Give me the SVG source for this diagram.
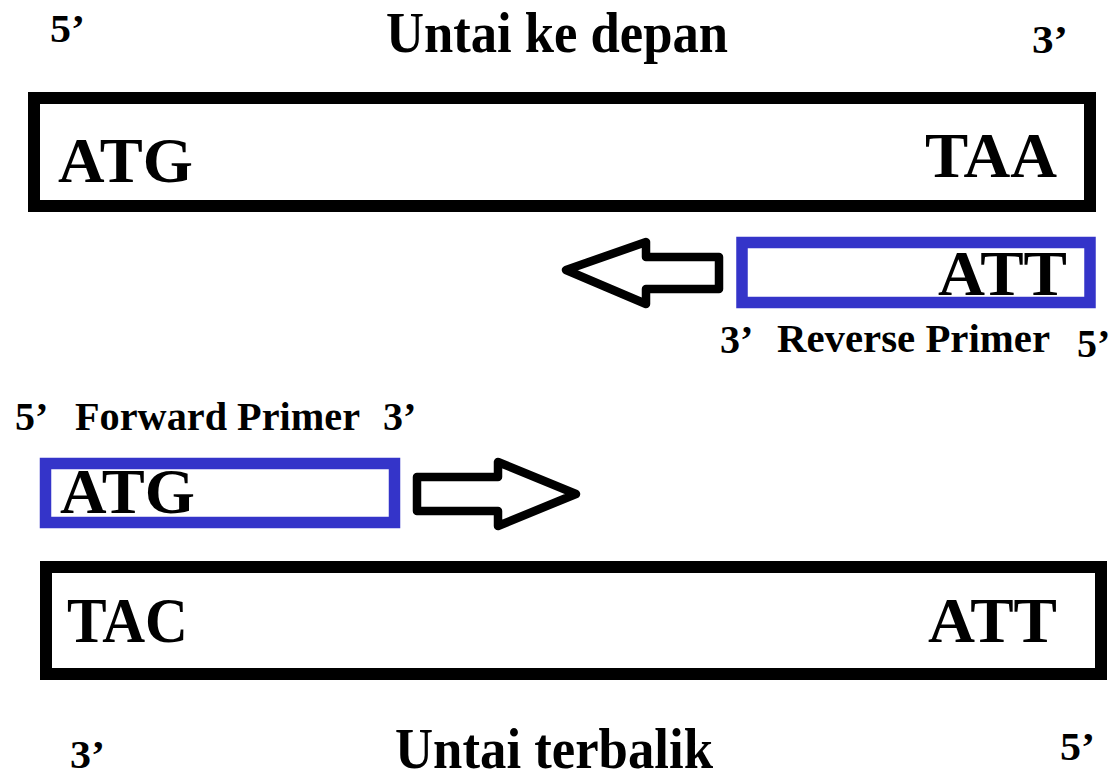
<svg xmlns="http://www.w3.org/2000/svg" width="1114" height="777" viewBox="0 0 1114 777">
  <style>
    .strand { fill: #ffffff; stroke: #000000; stroke-width: 12; }
    .primer { fill: #ffffff; stroke: #3434c9; stroke-width: 11.5; }
    .arrow { fill: #ffffff; stroke: #000000; stroke-width: 8.5; stroke-linejoin: round; }
    text { font-family: "Liberation Serif", "Times New Roman", serif; font-weight: bold; fill: #000000; }
    .seq { font-size: 63px; }
    .end { font-size: 40px; }
    .lbl { font-size: 40px; }
    .title { font-size: 58px; }
  </style>

  <rect width="1114" height="777" fill="#ffffff"/>

  <!-- Forward (sense) strand -->
  <g id="strand-forward">
    <text class="end" x="50" y="42" textLength="35" lengthAdjust="spacingAndGlyphs">5’</text>
    <text class="title" x="386" y="52" textLength="342" lengthAdjust="spacingAndGlyphs">Untai ke depan</text>
    <text class="end" x="1032" y="53" textLength="36" lengthAdjust="spacingAndGlyphs">3’</text>
    <rect class="strand" x="34" y="98" width="1056" height="108"/>
    <text class="seq" x="58" y="182" textLength="135" lengthAdjust="spacingAndGlyphs">ATG</text>
    <text class="seq" x="925" y="177" textLength="132" lengthAdjust="spacingAndGlyphs">TAA</text>
  </g>

  <!-- Reverse primer -->
  <g id="primer-reverse">
    <rect class="primer" x="742" y="242.5" width="348" height="60"/>
    <text class="seq" x="938" y="295" textLength="129" lengthAdjust="spacingAndGlyphs">ATT</text>
    <text class="lbl" x="720" y="353">3’</text>
    <text class="lbl" x="777" y="352" textLength="273" lengthAdjust="spacingAndGlyphs">Reverse Primer</text>
    <text class="lbl" x="1077" y="357">5’</text>
  </g>

  <!-- Forward primer -->
  <g id="primer-forward">
    <text class="lbl" x="15" y="430">5’</text>
    <text class="lbl" x="75" y="430" textLength="285" lengthAdjust="spacingAndGlyphs">Forward Primer</text>
    <text class="lbl" x="383" y="430">3’</text>
    <rect class="primer" x="45.5" y="463.5" width="349" height="59"/>
    <text class="seq" x="60" y="513" textLength="135" lengthAdjust="spacingAndGlyphs">ATG</text>
  </g>

  <!-- Reverse (antisense) strand -->
  <g id="strand-reverse">
    <rect class="strand" x="46" y="567" width="1055" height="107"/>
    <text class="seq" x="67" y="642" textLength="121" lengthAdjust="spacingAndGlyphs">TAC</text>
    <text class="seq" x="928" y="642" textLength="129" lengthAdjust="spacingAndGlyphs">ATT</text>
    <text class="end" x="70" y="768" font-size="44" textLength="35" lengthAdjust="spacingAndGlyphs">3’</text>
    <text class="title" x="395" y="768" font-size="62" textLength="318" lengthAdjust="spacingAndGlyphs">Untai terbalik</text>
    <text class="end" x="1060" y="760" textLength="35" lengthAdjust="spacingAndGlyphs">5’</text>
  </g>

  <!-- Extension direction arrows -->
  <g id="connectors">
    <polygon class="arrow" points="566,270 646,242 646,257 719,257 719,289 646,289 646,304"/>
    <polygon class="arrow" points="576,494 498,462 498,477 417,477 417,511 498,511 498,526"/>
  </g>
</svg>
